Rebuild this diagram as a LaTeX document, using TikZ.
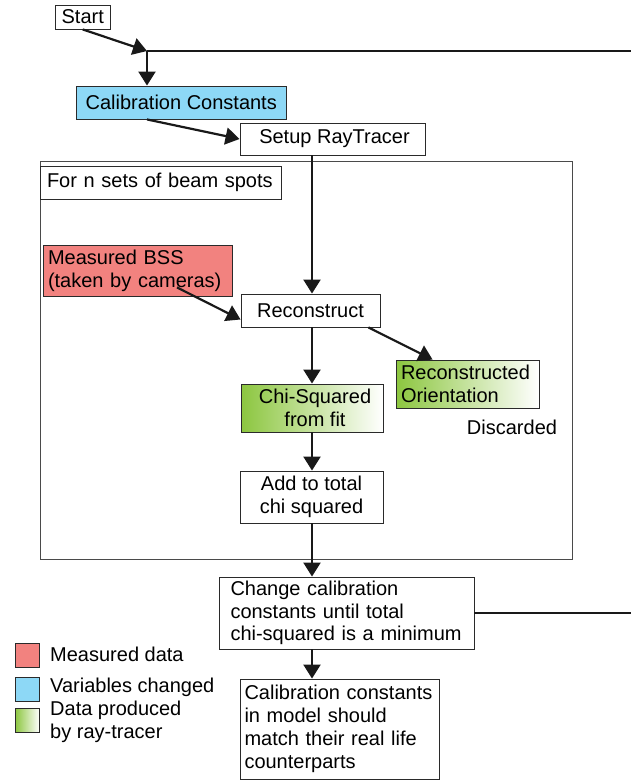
\documentclass[tikz,border=0pt]{standalone}
\usepackage{fontspec}
\setmainfont{Liberation Sans}
\usetikzlibrary{arrows.meta,calc}
\definecolor{calblue}{HTML}{8DD8F6}
\definecolor{measred}{HTML}{F2827F}
\definecolor{raygreen}{HTML}{8CC63F}
\definecolor{boxline}{HTML}{2A2A2A}
\definecolor{frameline}{HTML}{4A4A4A}
\hyphenpenalty=10000
\exhyphenpenalty=10000
\begin{document}
\begin{tikzpicture}[x=1pt,y=-1pt,
  every node/.style={font=\fontsize{20}{22.8}\selectfont, inner sep=0pt},
  box/.style={draw=boxline, line width=0.9pt, rectangle},
  lbox/.style={box, align=left},
  cbox/.style={box, align=center},
  grad/.style={left color=raygreen, right color=white},
  legsq/.style={draw=boxline, line width=0.9pt, minimum width=24.5pt, minimum height=24pt},
  conn/.style={draw=black!90, line width=2.2pt, -{Triangle[length=14pt,width=17pt]}},
  plainline/.style={draw=black!90, line width=2.2pt},
]
\useasboundingbox (0,0) rectangle (631,781);

% frame
\node[draw=frameline, line width=0.9pt, minimum width=532pt, minimum height=398pt] (frame) at (306,360) {};
\node[lbox, text width=233pt, inner xsep=4pt, minimum height=33pt] (forn) at (160.5,182.5) {\hspace*{3pt}For n sets of beam spots};

% boxes
\node[cbox, minimum width=54.5pt, minimum height=24pt] (start) at (82.75,17) {Start};
\node[cbox, fill=calblue, minimum width=209.5pt, minimum height=33pt] (calib) at (181.25,102.5) {Calibration Constants};
\node[cbox, minimum width=185pt, minimum height=32pt] (setup) at (332.5,139) {\hspace*{4pt}Setup RayTracer};
\node[lbox, fill=measred, text width=179pt, inner xsep=5pt, minimum height=51pt] (bss) at (137.5,270.5) {Measured BSS\\(taken by cameras)};
\node[cbox, minimum width=139pt, minimum height=33pt] (recon) at (310.5,310.5) {Reconstruct};
\node[lbox, grad, text width=133pt, inner xsep=5pt, minimum height=48pt] (ro) at (467.5,384) {Reconstructed\\Orientation};
\node (disc) at (512,427) {Discarded};
\node[cbox, grad, minimum width=142pt, minimum height=48pt] (chi) at (312,408) {\hspace*{6pt}Chi-Squared\\\hspace*{6pt}from fit};
\node[cbox, minimum width=143pt, minimum height=52pt] (add) at (311.5,497) {Add to total\\chi squared};
\node[lbox, text width=232pt, inner xsep=11.5pt, minimum height=72pt] (change) at (346.5,613) {Change calibration\\constants until total\\chi-squared is a minimum};
\node[lbox, text width=190pt, inner xsep=4.5pt, minimum height=100pt] (final) at (339.5,729) {Calibration constants\\in model should\\match their real life\\counterparts};

% legend
\node[legsq, fill=measred] (lr) at (27.25,655) {};
\node[legsq, fill=calblue] (lb) at (27.25,689) {};
\node[legsq, grad] (lg) at (27.25,720.5) {};
\node[anchor=west] (lrt) at (50,654) {Measured data};
\node[anchor=west] (lbt) at (50,687) {Variables changed};
\node[anchor=west, align=left] (lgt) at (50,722) {Data produced\\by ray-tracer};

% connectors
\coordinate (J) at (147,51);
\coordinate (Jr) at (631,51);
\coordinate (Cr) at (631,613);
\coordinate (col) at (312,0);
\draw[conn] (start.south) -- (J);
\draw[plainline] (J) -- (Jr);
\draw[conn] (J) -- (J |- calib.north);
\draw[conn] (J |- calib.south) -- (setup.west);
\draw[conn] (col |- setup.south) -- (col |- recon.north);
\draw[conn] ($(bss.south)+(39.5,-9)$) -- ([yshift=-9pt]recon.west);
\draw[conn] (col |- recon.south) -- (col |- chi.north);
\draw[conn] ($(recon.south east)+(-12,0)$) -- ($(ro.north west)+(37,0)$);
\draw[conn] (col |- chi.south) -- (col |- add.north);
\draw[conn] (col |- add.south) -- (col |- change.north);
\draw[plainline] (change.east) -- (Cr);
\draw[conn] (col |- change.south) -- (col |- final.north);
\end{tikzpicture}
\end{document}
